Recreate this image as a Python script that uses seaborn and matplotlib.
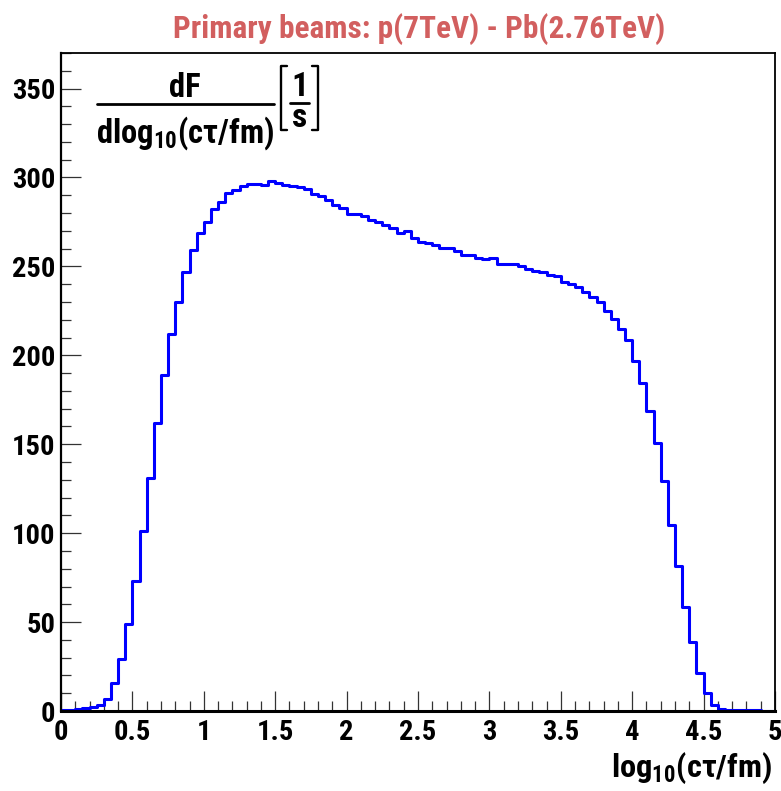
import os
import numpy as np
import pandas as pd
import matplotlib
matplotlib.use("Agg")
import matplotlib.pyplot as plt
import seaborn as sns
from matplotlib.ticker import MultipleLocator, FixedLocator, FixedFormatter
from matplotlib import font_manager as fm

# ---------------- data ----------------
bin_edges_range = (0.0, 5.0)
n_bins = 100
values = [
    0.5, 0.8, 1.2, 1.6, 2.2, 3.5, 6.5, 15.5, 29.5, 49,
    73, 101, 131, 162, 189, 212, 230, 247, 259, 269,
    275, 282.5, 286, 291, 293, 295, 296.5, 296.5, 296, 298,
    297, 296, 295, 294.5, 293.5, 290.7, 289.4, 287.6, 284.7, 282.9,
    279.7, 279.7, 278.6, 276.1, 275.2, 273.1, 271.4, 268.8, 269.9, 265.8,
    263.9, 263.2, 262.2, 260.2, 260.6, 258.5, 256.6, 256.2, 254.9, 254.2,
    254.5, 251.2, 251.2, 251.5, 250.0, 248.5, 247.4, 246.7, 245.3, 244.6,
    241.2, 239.9, 238.4, 235.4, 232.8, 229.8, 224.9, 220.4, 214.8, 208.6,
    196.8, 184.4, 168.8, 150.6, 129.4, 104.5, 81.6, 58.5, 39.0, 21.4,
    10.0, 3.2, 1.2, 0.7, 0.5, 0.4, 0.3, 0.3, 0.2, 0.2,
]
x_tick_values = [0, 0.5, 1, 1.5, 2, 2.5, 3, 3.5, 4, 4.5, 5]
x_tick_labels = ["0", "0.5", "1", "1.5", "2", "2.5", "3", "3.5", "4", "4.5", "5"]
y_tick_values = [0, 50, 100, 150, 200, 250, 300, 350]
y_tick_labels = ["0", "50", "100", "150", "200", "250", "300", "350"]
title_text = "Primary beams: p(7TeV) - Pb(2.76TeV)"

# ---------------- fonts: prefer a narrow/condensed bold sans ----------------
def find_narrow():
    prefs = ["nimbus sans narrow", "liberation sans narrow", "roboto condensed",
             "dejavu sans condensed", "dejavu sans", "open sans condensed", "arial narrow"]
    found = []
    for f in fm.fontManager.ttflist:
        nm = f.name.lower()
        fn = os.path.basename(f.fname).lower()
        st = str(f.stretch).lower()
        narrow = ("narrow" in nm or "condensed" in nm or "condensed" in st
                  or "narrow" in fn or "condensed" in fn)
        if not narrow:
            continue
        w = f.weight
        try:
            wv = int(w)
        except Exception:
            wv = 700 if "bold" in str(w).lower() else 400
        if wv < 600:
            continue
        rank = len(prefs)
        for i, p in enumerate(prefs):
            if nm.startswith(p):
                rank = i
                break
        found.append((rank, f))
    if not found:
        return None
    found.sort(key=lambda t: t[0])
    return found[0][1]

nf = find_narrow()
sns.set_style("white")
if nf is not None:
    main_family = nf.name
    main_stretch = str(nf.stretch) if str(nf.stretch) not in ("normal", "400") else "normal"
    narrow_ok = True
else:
    main_family = "Liberation Sans"
    main_stretch = "normal"
    narrow_ok = False

plt.rcParams["font.family"] = [main_family, "DejaVu Sans"]
plt.rcParams["font.weight"] = "bold"
plt.rcParams["font.stretch"] = main_stretch
plt.rcParams["text.color"] = "black"
plt.rcParams["mathtext.fontset"] = "custom"
mt = f"{main_family}:bold" + (f":stretch={main_stretch}" if main_stretch != "normal" else "")
plt.rcParams["mathtext.rm"] = mt
plt.rcParams["mathtext.bf"] = mt
plt.rcParams["mathtext.it"] = mt
plt.rcParams["mathtext.sf"] = mt
plt.rcParams["mathtext.default"] = "bf"

k = 1.0 if narrow_ok else 0.84   # size factor if only a normal-width font exists

W, H = 781, 791
fig = plt.figure(figsize=(W / 100, H / 100), dpi=100)
ax = fig.add_axes([61 / W, 1 - 711 / H, (775 - 61) / W, (711 - 53) / H])

step = (bin_edges_range[1] - bin_edges_range[0]) / n_bins
centers = bin_edges_range[0] + step * (np.arange(n_bins) + 0.5)
df = pd.DataFrame({"x": centers, "w": np.asarray(values, dtype=float)})

sns.histplot(data=df, x="x", weights="w", bins=n_bins, binrange=bin_edges_range,
             element="step", fill=False, color="#0000FF", linewidth=2.2, ax=ax)

ax.set_xlim(0, 5)
ax.set_ylim(0, 370)
ax.set_xlabel("")
ax.set_ylabel("")

ax.xaxis.set_major_locator(FixedLocator(x_tick_values))
ax.xaxis.set_major_formatter(FixedFormatter(x_tick_labels))
ax.xaxis.set_minor_locator(MultipleLocator(0.1))
ax.yaxis.set_major_locator(FixedLocator(y_tick_values))
ax.yaxis.set_major_formatter(FixedFormatter(y_tick_labels))
ax.yaxis.set_minor_locator(MultipleLocator(10))

ax.tick_params(axis="both", which="major", direction="in", length=14.5, width=0.9,
               color="#333333", labelsize=20.5 * k, labelcolor="black")
ax.tick_params(axis="both", which="minor", direction="in", length=7.2, width=0.9,
               color="#333333")
ax.tick_params(axis="x", which="major", pad=6)
ax.tick_params(axis="y", which="major", pad=4)
ax.tick_params(bottom=True, left=True, top=False, right=False, which="both")
for lab in ax.get_xticklabels() + ax.get_yticklabels():
    lab.set_fontweight("bold")

for side in ["top", "right"]:
    ax.spines[side].set_linewidth(1.3)
    ax.spines[side].set_color("black")
ax.spines["left"].set_linewidth(1.6)
ax.spines["bottom"].set_linewidth(2.2)
ax.spines["left"].set_color("black")
ax.spines["bottom"].set_color("black")

def fx(px):
    return px / W

def fy(py):
    return 1 - py / H

# title
fig.text(fx(419), fy(38), title_text, ha="center", va="baseline", fontsize=22.5 * k,
         fontweight="bold", color="#D25F5F")

# x-axis title
fig.text(fx(772), fy(777), r"log$_{10}$(cτ/fm)", ha="right", va="baseline",
         fontsize=23.3 * k, fontweight="bold", color="black")

# y-axis label (fraction) inside the frame
fig.text(fx(185), fy(97), "dF", ha="center", va="baseline", fontsize=23.5 * k,
         fontweight="bold", color="black")
fig.add_artist(plt.Line2D([fx(97), fx(274)], [fy(104), fy(104)], color="black",
                          linewidth=2.0, transform=fig.transFigure))
fig.text(fx(185), fy(143), r"dlog$_{10}$(cτ/fm)", ha="center", va="baseline",
         fontsize=23.5 * k, fontweight="bold", color="black")

# [1/s]
bl, br, bt, bb = 281, 318, 66, 130
for xs, ys in [([bl + 6, bl, bl, bl + 6], [bt, bt, bb, bb]),
               ([br - 6, br, br, br - 6], [bt, bt, bb, bb])]:
    fig.add_artist(plt.Line2D([fx(v) for v in xs], [fy(v) for v in ys], color="black",
                              linewidth=1.7, transform=fig.transFigure))
fig.text(fx(299.5), fy(127), "1\ns", ha="center", va="baseline", ma="center",
         fontsize=24 * k, linespacing=0.98, fontweight="bold", color="black")
fig.add_artist(plt.Line2D([fx(290), fx(309)], [fy(103), fy(103)], color="black",
                          linewidth=2.0, transform=fig.transFigure))

fig.savefig("out.png", dpi=100)
